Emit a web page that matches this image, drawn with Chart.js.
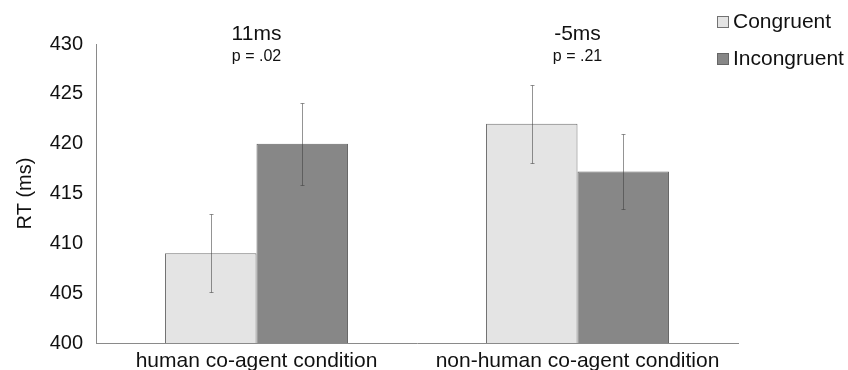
<!DOCTYPE html>
<html>
<head>
<meta charset="utf-8">
<script src="https://cdn.jsdelivr.net/npm/chart.js@4.4.1/dist/chart.umd.min.js"></script>
<style>
  body { margin: 0; background: #fff; }
  canvas { display: block; }
</style>
</head>
<body>
<canvas id="rtChart" width="848" height="370"></canvas>
<script>
  // data
  const categories = ['human co-agent condition', 'non-human co-agent condition'];
  const congruent = [409, 422];
  const incongruent = [420, 417.2];
  const congruentErr = [3.9, 3.9];
  const incongruentErr = [4.1, 3.75];
  const diffLabels = ['11ms', '-5ms'];
  const pLabels = ['p = .02', 'p = .21'];
  const yTicks = [400, 405, 410, 415, 420, 425, 430];

  const FONT = '"Liberation Sans", Arial, sans-serif';
  const errors = [congruentErr, incongruentErr];

  const extras = {
    id: 'extras',
    afterDatasetsDraw(chart) {
      const c = chart.ctx;
      const y = chart.scales.y;
      const x = chart.scales.x;
      c.save();
      // error bars (semi-transparent so they darken over the grey bar)
      c.strokeStyle = 'rgba(60,60,60,0.55)';
      c.lineWidth = 1;
      chart.data.datasets.forEach((ds, di) => {
        chart.getDatasetMeta(di).data.forEach((bar, i) => {
          const v = ds.data[i], e = errors[di][i];
          const top = Math.round(y.getPixelForValue(v + e)) + 0.5;
          const bot = Math.round(y.getPixelForValue(v - e)) + 0.5;
          const bx = Math.round(bar.x) + 0.5;
          c.beginPath();
          c.moveTo(bx, top); c.lineTo(bx, bot);
          c.moveTo(bx - 2, top); c.lineTo(bx + 2, top);
          c.moveTo(bx - 2, bot); c.lineTo(bx + 2, bot);
          c.stroke();
        });
      });
      // difference labels above each group
      c.fillStyle = '#111';
      c.textAlign = 'center';
      c.textBaseline = 'middle';
      categories.forEach((cat, i) => {
        const cx = x.getPixelForValue(i);
        c.font = '21px ' + FONT;
        c.fillText(diffLabels[i], cx, 34);
        c.font = '16px ' + FONT;
        c.fillText(pLabels[i], cx, 57);
      });
      // legend
      c.textAlign = 'left';
      c.font = '21px ' + FONT;
      chart.data.datasets.forEach((ds, di) => {
        const ly = di === 0 ? 22 : 59;
        c.fillStyle = ds.backgroundColor;
        c.fillRect(717.5, ly - 5.5, 11, 11);
        c.strokeStyle = ds.borderColor;
        c.strokeRect(717.5, ly - 5.5, 11, 11);
        c.fillStyle = '#111';
        c.fillText(ds.label, 733, ly);
      });
      c.restore();
    }
  };

  const ctx = document.getElementById('rtChart').getContext('2d');

  const rtChart = new Chart(ctx, {
    type: 'bar',
    data: {
      labels: categories,
      datasets: [{
        label: 'Congruent',
        data: congruent,
        backgroundColor: '#e4e4e4',
        borderColor: '#727272',
        borderWidth: 1
      }, {
        label: 'Incongruent',
        data: incongruent,
        backgroundColor: '#878787',
        borderColor: '#666666',
        borderWidth: 1
      }]
    },
    options: {
      responsive: false,
      animation: false,
      layout: { padding: { top: 44, right: 110, left: 0, bottom: 0 } },
      datasets: { bar: { barPercentage: 1, categoryPercentage: 0.57 } },
      plugins: {
        legend: { display: false },
        tooltip: { enabled: false }
      },
      scales: {
        x: {
          grid: { display: false, drawTicks: false },
          border: { color: '#8a8a8a' },
          ticks: { color: '#111', font: { family: FONT, size: 21 }, padding: 6, maxRotation: 0 },
          afterFit: (s) => { s.height = 27; }
        },
        y: {
          min: 400,
          max: 430,
          grid: { display: false, drawTicks: false },
          border: { color: '#8a8a8a' },
          afterBuildTicks: (s) => { s.ticks = yTicks.map(v => ({ value: v })); },
          ticks: { color: '#111', font: { family: FONT, size: 20 }, padding: 13 },
          title: {
            display: true,
            text: 'RT (ms)',
            color: '#111',
            font: { family: FONT, size: 20 },
            padding: { top: 13, bottom: 0 }
          },
          afterFit: (s) => { s.width = 96; }
        }
      }
    },
    plugins: [extras]
  });
</script>
</body>
</html>
